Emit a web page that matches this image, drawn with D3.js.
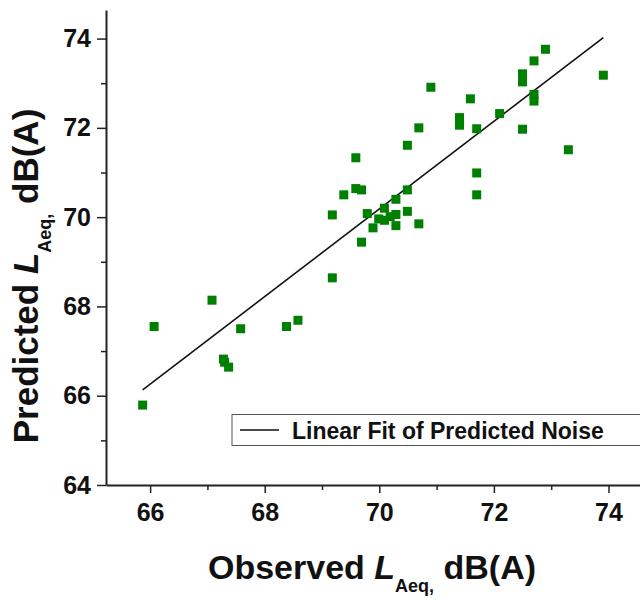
<!DOCTYPE html>
<html lang="en">
<head>
    <meta charset="UTF-8">
    <title>Observed vs Predicted LAeq</title>
    <script src="https://d3js.org/d3.v7.min.js"></script>
    <style type="text/css">
        body { margin: 0; background: white; }
        text { font-family: "Liberation Sans", Arial, sans-serif; font-weight: bold; fill: #111; }
    </style>
</head>
<body>
<script type="text/javascript">

    // observed and predicted noise levels, dB(A)
    const observed = [65.87, 66.07, 67.08, 67.28, 67.30, 67.37, 67.58, 68.38, 68.58,
        69.18, 69.18, 69.38, 69.59, 69.59, 69.69, 69.69, 69.79, 69.89, 69.99,
        70.09, 70.09, 70.19, 70.29, 70.29, 70.29, 70.49, 70.49, 70.49, 70.69, 70.69,
        70.90, 71.40, 71.40, 71.59, 71.70, 71.70, 71.70, 72.10, 72.50, 72.50, 72.50,
        72.70, 72.70, 72.70, 72.90, 73.30, 73.91];
    const predicted = [65.79, 67.55, 68.14, 66.82, 66.75, 66.64, 67.50, 67.55, 67.69,
        70.05, 68.64, 70.50, 71.33, 70.64, 70.61, 69.44, 70.08, 69.76, 69.96,
        70.20, 69.93, 70.01, 70.40, 70.06, 69.81, 71.61, 70.61, 70.13, 72.00, 69.85,
        72.91, 72.23, 72.06, 72.65, 71.98, 70.99, 70.50, 72.32, 71.97, 73.21, 73.03,
        73.50, 72.75, 72.60, 73.76, 71.51, 73.18];

    // linear fit end points
    const fitX = [65.87, 73.91];
    const fitY = [66.13, 74.02];

    const xTicks = [66, 68, 70, 72, 74];
    const xMinor = [67, 69, 71, 73];
    const yTicks = [64, 66, 68, 70, 72, 74];
    const yMinor = [65, 67, 69, 71, 73];

    const width = 640, height = 600;
    const svg = d3.select("body").append("svg")
        .attr("width", width)
        .attr("height", height);

    const x = d3.scaleLinear().domain([65.23, 74.55]).range([106, 640]);
    const y = d3.scaleLinear().domain([64, 74.64]).range([485, 10]);

    // minor ticks first (no labels)
    svg.append("g")
        .attr("transform", "translate(0,485)")
        .call(d3.axisBottom(x).tickValues(xMinor).tickSize(5).tickFormat(""))
        .call(g => g.select(".domain").remove());
    svg.append("g")
        .attr("transform", "translate(106,0)")
        .call(d3.axisLeft(y).tickValues(yMinor).tickSize(5).tickFormat(""))
        .call(g => g.select(".domain").remove());

    const xAxis = svg.append("g")
        .attr("transform", "translate(0,485)")
        .call(d3.axisBottom(x).tickValues(xTicks).tickSize(8).tickPadding(10).tickSizeOuter(0).tickFormat(d3.format("d")));
    const yAxis = svg.append("g")
        .attr("transform", "translate(106,0)")
        .call(d3.axisLeft(y).tickValues(yTicks).tickSize(9).tickPadding(6).tickSizeOuter(0).tickFormat(d3.format("d")));

    svg.selectAll(".tick line").attr("stroke", "#222").attr("stroke-width", 1.5);
    svg.selectAll(".domain").attr("stroke", "#222").attr("stroke-width", 2);
    svg.selectAll(".tick text")
        .style("font-size", "25px")
        .style("font-weight", "bold")
        .style("font-family", "'Liberation Sans', Arial, sans-serif")
        .attr("fill", "#111");

    // fit line
    svg.append("line")
        .attr("x1", x(fitX[0])).attr("y1", y(fitY[0]))
        .attr("x2", x(fitX[1])).attr("y2", y(fitY[1]))
        .attr("stroke", "#111")
        .attr("stroke-width", 1.6);

    // points
    const s = 9;
    svg.selectAll("rect.pt")
        .data(observed)
        .enter().append("rect")
        .attr("class", "pt")
        .attr("x", d => x(d) - s / 2)
        .attr("y", (d, i) => y(predicted[i]) - s / 2)
        .attr("width", s)
        .attr("height", s)
        .attr("fill", "#008000");

    // legend
    const legend = svg.append("g");
    legend.append("rect")
        .attr("x", 232).attr("y", 414.5)
        .attr("width", 420).attr("height", 31)
        .attr("fill", "white")
        .attr("stroke", "#555")
        .attr("stroke-width", 1);
    legend.append("line")
        .attr("x1", 240).attr("x2", 279)
        .attr("y1", 430).attr("y2", 430)
        .attr("stroke", "#111").attr("stroke-width", 1.6);
    legend.append("text")
        .attr("x", 292).attr("y", 438.5)
        .style("font-size", "23px")
        .text("Linear Fit of Predicted Noise");

    // axis titles
    const xt = svg.append("text")
        .attr("x", 372).attr("y", 579)
        .attr("text-anchor", "middle")
        .style("font-size", "34px");
    xt.append("tspan").text("Observed ");
    xt.append("tspan").style("font-style", "italic").text("L");
    xt.append("tspan").style("font-size", "18px").attr("dy", 13).text("Aeq,");
    xt.append("tspan").attr("dy", -13).text(" dB(A)");

    const yt = svg.append("text")
        .attr("transform", "translate(38,276) rotate(-90)")
        .attr("text-anchor", "middle")
        .style("font-size", "35px");
    yt.append("tspan").text("Predicted ");
    yt.append("tspan").style("font-style", "italic").text("L");
    yt.append("tspan").style("font-size", "18px").attr("dy", 13).text("Aeq,");
    yt.append("tspan").attr("dy", -13).text(" dB(A)");

</script>
</body>
</html>
